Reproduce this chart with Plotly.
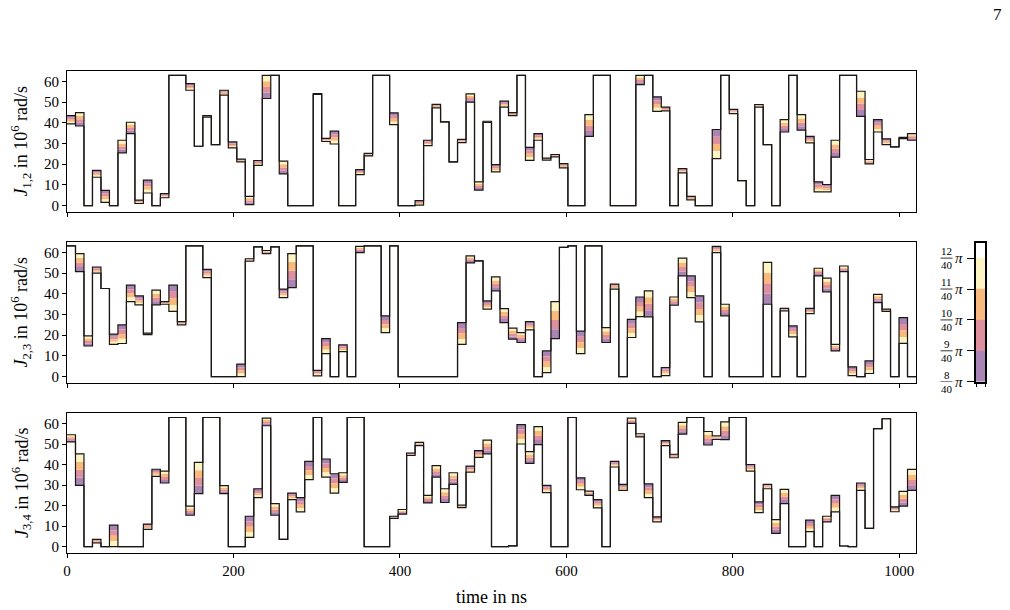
import plotly.graph_objects as go

dt = 10.2  # ns per piecewise-constant segment

# ---- J_{1,2}: values of the 8/40 pi (purple) and 12/40 pi (yellow) curves
j12_pur = [43.5, 38.5, 0, 17, 7.4, 0, 25.5, 34.8, 2.6, 12.3,
           0, 5.8, 63, 63, 59, 28.7, 43.5, 29.5, 55.8, 30.8,
           22.5, 0.5, 21.8, 51.8, 63, 15.3, 0, 0, 0, 53.8,
           32.5, 36, 0, 0, 17.4, 24, 63, 63, 44.8, 0,
           0, 2.4, 31.6, 49, 40.5, 21.1, 32, 50, 7.5, 40.8,
           19.8, 50.5, 45, 63, 28.2, 34.8, 23, 24.7, 20.3, 0,
           0, 33.5, 63, 63, 0, 0, 0, 58.5, 63, 52.6,
           47.6, 0, 17.9, 4.5, 0, 0, 36.8, 63, 46.5, 12.1,
           0, 48.9, 29.5, 0, 35.6, 63, 36.5, 33.5, 11.5, 10.2,
           23.4, 63, 63, 43.2, 20.2, 41.6, 32.3, 28.4, 33, 31.6]
j12_yel = [39.5, 45, 0, 13.7, 1.6, 0, 31.6, 40.3, 1.0, 6.1,
           0, 3.8, 63, 63, 55.8, 28.7, 42.8, 29.5, 53.4, 27.9,
           21.1, 4.5, 19.5, 63, 63, 21.5, 0, 0, 0, 54.2,
           31, 29.8, 0, 0, 15, 25.3, 63, 63, 39.2, 0,
           0, 0.2, 29, 47.3, 40.5, 21.1, 30.5, 54, 11.5, 40.2,
           16.3, 47.6, 43.5, 63, 21.9, 31.6, 22, 23.6, 18.2, 0,
           0, 44, 63, 63, 0, 0, 0, 63, 63, 45.6,
           45.8, 0, 15.8, 2.8, 0, 0, 22.7, 63, 44.5, 12.1,
           0, 47.6, 29.5, 0, 41.6, 63, 44, 30.3, 6.6, 6.6,
           31.6, 63, 63, 55.3, 22.3, 35.6, 29.5, 28.4, 32.4, 34.8]

# ---- J_{2,3}
j23_pur = [63.2, 50.8, 14.8, 53, 42.6, 20.5, 25, 44.2, 39, 21,
           34.7, 36.3, 44.2, 26.6, 63.2, 63.2, 51.9, 0, 0, 0,
           6, 55.8, 62.7, 59.5, 62.7, 42.3, 43, 63.2, 63.2, 3,
           18.4, 0, 15.3, 0, 60, 63.2, 63.2, 29.4, 63.2, 0,
           0, 0, 0, 0, 0, 0, 26.1, 55, 56, 36.6,
           41.5, 26.1, 18.1, 16.5, 26.6, 0, 12.4, 18.4, 62.5, 63.2,
           22, 63.2, 63.2, 16.5, 44.7, 0, 27.7, 38.5, 28.9, 0,
           4.4, 34.5, 48.7, 48.7, 39, 0, 63, 29.4, 0, 0,
           0, 0, 35, 0, 33, 24.5, 0, 33, 48.7, 41,
           12.4, 50.8, 4.7, 0, 7.6, 35.8, 32.6, 0, 28.5, 0]
j23_yel = [63.2, 59.5, 19.7, 50, 42.6, 15.6, 16, 36.3, 34.7, 20.3,
           41.8, 35, 31.5, 25, 63.2, 63.2, 47.9, 0, 0, 0,
           0, 57, 62.7, 61, 62.7, 38.2, 59.5, 63.2, 63.2, 0.3,
           11.1, 0, 12.1, 0, 63, 63.2, 63.2, 21.3, 63.2, 0,
           0, 0, 0, 0, 0, 0, 15.6, 58.4, 56, 32.6,
           48.2, 32.9, 23.4, 21.3, 22.6, 0, 1.9, 36.3, 62.5, 63.2,
           11.1, 63.2, 63.2, 23.7, 42.3, 0, 18.9, 29, 41.5, 0,
           0.5, 38.5, 57.3, 38.2, 26.5, 0, 60, 35, 0, 0,
           0, 0, 55.2, 0, 31.8, 19.2, 0, 30.5, 52.4, 47.6,
           15.6, 53.5, 0.5, 0, 1.5, 39.8, 31.5, 0, 16.1, 0]

# ---- J_{3,4}
j34_pur = [51, 29.8, 0, 3.5, 0, 10.5, 0, 0, 0, 11,
           37.7, 31, 62.9, 62.9, 15.3, 25.8, 62.9, 62.9, 25.8, 0,
           0, 14.8, 28.2, 58.9, 15.3, 3.5, 26.1, 23.9, 41.5, 62.9,
           42.7, 35.5, 31.3, 62.9, 62.9, 0, 0, 0, 14.8, 15.8,
           44.4, 49.2, 21.3, 33.9, 21.5, 30.3, 19, 39.2, 46.8, 45.2,
           0, 0, 0.4, 59.4, 40.6, 49.7, 29.8, 0, 0, 62.9,
           33.5, 25, 22.9, 0, 41.5, 30.3, 60, 53.5, 30.6, 14.5,
           51.6, 45, 54.8, 62.9, 62.9, 49.5, 52.2, 52.1, 62.9, 62.9,
           40, 21.8, 30.3, 6.5, 21, 0, 0, 12.9, 0, 12.1,
           25, 0.3, 0, 31, 8.9, 57.5, 62.3, 19.4, 19.7, 27.4]
j34_yel = [54.5, 45.2, 0, 1.8, 0, 0, 0, 0, 0, 8.4,
           34.2, 36.8, 62.9, 62.9, 19.7, 41, 62.9, 62.9, 29.7, 0,
           0, 4.5, 23.9, 62.6, 21, 3.5, 22.9, 16.9, 32.6, 62.9,
           33.9, 26.1, 36, 62.9, 62.9, 0, 0, 0, 13.8, 18.1,
           45.6, 50.8, 25, 39.5, 28.2, 36, 20.2, 36.3, 43.5, 51.9,
           0, 0, 0.4, 50, 46.3, 58.5, 26.3, 0, 0, 62.9,
           27.7, 27, 18.9, 0, 38.8, 27.4, 62.6, 55, 23.9, 12.1,
           49.2, 43.3, 60.5, 62.9, 62.9, 56.1, 54, 60.8, 62.9, 62.9,
           36.8, 16.6, 28.2, 13.2, 27.9, 0, 0, 7.3, 0, 14.8,
           16.9, 0.3, 0, 27.4, 8.9, 57.5, 62.3, 17, 26.9, 37.6]

# colorbar levels (units of pi/40) and colours
cbar_levels = [8, 9, 10, 11, 12]
band_colors = ["#a985b5", "#df909f", "#f9b97c", "#fdf4c4"]
cbar_colors = band_colors + ["#ffffff"]
ylabels = ["<i>J</i><sub>1,2</sub> in 10<sup>6</sup> rad/s",
           "<i>J</i><sub>2,3</sub> in 10<sup>6</sup> rad/s",
           "<i>J</i><sub>3,4</sub> in 10<sup>6</sup> rad/s"]

FONT = "Liberation Serif"
W, H = 1010, 610
ML, MR, MT, MB = 67, 20, 71, 57
PW, PH = W - ML - MR, H - MT - MB

def px_x(px):
    return (px - ML) / PW

def px_y(py):
    return 1 - (py - MT) / PH

fig = go.Figure()
panels = [(j12_pur, j12_yel), (j23_pur, j23_yel), (j34_pur, j34_yel)]
edges = [i * dt for i in range(len(j12_pur) + 1)]

for n, (pur, yel) in enumerate(panels):
    xa = "x" if n == 0 else f"x{n+1}"
    ya = "y" if n == 0 else f"y{n+1}"
    nb = len(band_colors)
    levels = [[p + (q - p) * k / nb for p, q in zip(pur, yel)] for k in range(nb + 1)]
    for k, lv in enumerate(levels):
        fig.add_trace(go.Scatter(
            x=edges, y=lv + [lv[-1]], mode="lines",
            line=dict(width=0, shape="hv"),
            fill="tonexty" if k > 0 else "none",
            fillcolor=band_colors[k - 1] if k > 0 else None,
            xaxis=xa, yaxis=ya, hoverinfo="skip", showlegend=False))
    for arr in (pur, yel):
        fig.add_trace(go.Scatter(
            x=edges, y=arr + [arr[-1]], mode="lines",
            line=dict(width=1.2, color="#1b1714", shape="hv"),
            xaxis=xa, yaxis=ya, hoverinfo="skip", showlegend=False))

# colour bar as a heatmap on its own small axes
fig.add_trace(go.Heatmap(
    z=[[0], [1], [2], [3], [4]], x=[0, 1], y=cbar_levels + [12.5],
    zmin=0, zmax=4, showscale=False, hoverinfo="skip",
    colorscale=[[0, cbar_colors[0]], [0.125, cbar_colors[0]],
                [0.125, cbar_colors[1]], [0.375, cbar_colors[1]],
                [0.375, cbar_colors[2]], [0.625, cbar_colors[2]],
                [0.625, cbar_colors[3]], [0.875, cbar_colors[3]],
                [0.875, cbar_colors[4]], [1, cbar_colors[4]]],
    xaxis="x4", yaxis="y4"))

axis_common = dict(showline=True, mirror=True, linecolor="black", linewidth=1,
                   ticks="outside", ticklen=4, tickcolor="black", tickwidth=1,
                   showgrid=False, zeroline=False,
                   tickfont=dict(family=FONT, size=15, color="black"))

pdom = [0, px_x(916)]
ydoms = [[px_y(212), px_y(71)], [px_y(383), px_y(242)], [px_y(553), px_y(413)]]
layout = dict(width=W, height=H, margin=dict(l=ML, r=MR, t=MT, b=MB),
              paper_bgcolor="white", plot_bgcolor="white",
              font=dict(family=FONT, color="black"))
for n in range(3):
    xk = "xaxis" if n == 0 else f"xaxis{n+1}"
    yk = "yaxis" if n == 0 else f"yaxis{n+1}"
    layout[xk] = dict(axis_common, domain=pdom, range=[0, 1020],
                      tickvals=[0, 200, 400, 600, 800, 1000],
                      showticklabels=(n == 2),
                      anchor="y" if n == 0 else f"y{n+1}")
    layout[yk] = dict(axis_common, domain=ydoms[n], range=[-3.1, 65.1],
                      tickvals=[0, 10, 20, 30, 40, 50, 60],
                      anchor="x" if n == 0 else f"x{n+1}")
layout["xaxis4"] = dict(domain=[px_x(976), px_x(985)], range=[0, 1], anchor="y4",
                        showline=True, mirror=True, linecolor="black", linewidth=1.5,
                        tickvals=[0, 1], ticks="outside", ticklen=4, tickcolor="black",
                        showticklabels=False, showgrid=False, zeroline=False)
layout["yaxis4"] = dict(domain=[px_y(381.7), px_y(242.7)], range=[8, 12.5], anchor="x4",
                        showline=True, mirror=True, linecolor="black", linewidth=1.5,
                        tickvals=cbar_levels, ticks="outside", ticklen=7, tickcolor="black",
                        showticklabels=False, showgrid=False, zeroline=False)
fig.update_layout(**layout)

ann = []
for n in range(3):
    yc = (ydoms[n][0] + ydoms[n][1]) / 2
    ann.append(dict(text=ylabels[n], xref="paper", yref="paper", x=px_x(21), y=yc,
                    textangle=-90, showarrow=False, xanchor="center", yanchor="middle",
                    font=dict(family=FONT, size=18, color="black")))
ann.append(dict(text="time in ns", xref="paper", yref="paper", x=px_x(491), y=px_y(597),
                showarrow=False, xanchor="center", yanchor="middle",
                font=dict(family=FONT, size=18, color="black")))
ann.append(dict(text="7", xref="paper", yref="paper", x=px_x(997), y=px_y(15),
                showarrow=False, xanchor="center", yanchor="middle",
                font=dict(family=FONT, size=17, color="black")))
shapes = []
for lv in cbar_levels:
    ann.append(dict(text=str(lv), xref="paper", yref="y4", x=px_x(946.5), y=lv, yshift=7,
                    showarrow=False, xanchor="center", yanchor="middle",
                    font=dict(family=FONT, size=11, color="black")))
    ann.append(dict(text="40", xref="paper", yref="y4", x=px_x(946.5), y=lv, yshift=-7,
                    showarrow=False, xanchor="center", yanchor="middle",
                    font=dict(family=FONT, size=11, color="black")))
    ann.append(dict(text="<i>π</i>", xref="paper", yref="y4", x=px_x(958.5), y=lv, yshift=0,
                    showarrow=False, xanchor="center", yanchor="middle",
                    font=dict(family=FONT, size=15, color="black")))
    shapes.append(dict(type="line", xref="paper", yref="y4", x0=px_x(940.5), x1=px_x(952.5),
                       y0=lv, y1=lv, line=dict(color="black", width=0.8)))
fig.update_layout(annotations=ann, shapes=shapes)

fig.write_html("out.html")
